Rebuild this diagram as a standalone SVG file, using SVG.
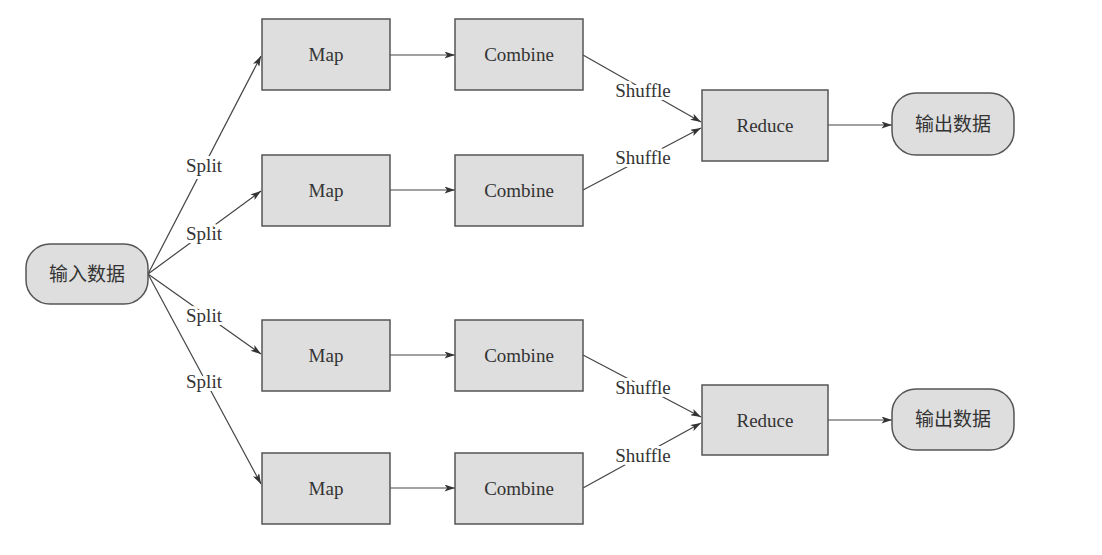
<svg xmlns="http://www.w3.org/2000/svg" width="1102" height="555" viewBox="0 0 1102 555">
<defs>
<marker id="arr" viewBox="0 0 12 8" refX="12" refY="4" markerWidth="12" markerHeight="7" markerUnits="userSpaceOnUse" orient="auto">
<path d="M0,0 L12,4 L0,8 L3,4 Z" fill="#333"/>
</marker>
</defs>
<style>
.box{fill:#dedede;stroke:#555;stroke-width:1.5}
.lbl{font-family:"Liberation Serif","Times New Roman",serif;font-size:19px;fill:#333;text-anchor:middle;dominant-baseline:central}
.cn{font-family:"Liberation Serif","Noto Sans CJK SC",sans-serif;font-size:19px;fill:#333;text-anchor:middle;dominant-baseline:central}
.edge{fill:none;stroke:#444;stroke-width:1.2;marker-end:url(#arr)}
.el{font-family:"Liberation Serif","Times New Roman",serif;font-size:19px;fill:#333;text-anchor:middle;dominant-baseline:central;paint-order:stroke;stroke:#fff;stroke-width:6px;stroke-linejoin:round}
</style>
<rect width="1102" height="555" fill="#fff"/>
<g id="connectors">
<path class="edge" d="M148,274 L261,56"/>
<path class="edge" d="M148,274 L261,191"/>
<path class="edge" d="M148,274 L261,354"/>
<path class="edge" d="M148,274 L261,484"/>
<path class="edge" d="M390,55 L455,55"/>
<path class="edge" d="M390,190 L455,190"/>
<path class="edge" d="M390,355 L455,355"/>
<path class="edge" d="M390,488 L455,488"/>
<path class="edge" d="M583,55 L701,122"/>
<path class="edge" d="M583,190 L701,128"/>
<path class="edge" d="M583,355 L701,417"/>
<path class="edge" d="M583,488 L701,423"/>
<path class="edge" d="M828,125 L892,125"/>
<path class="edge" d="M828,420 L892,420"/>
<text class="el" x="204" y="165">Split</text>
<text class="el" x="204" y="233">Split</text>
<text class="el" x="204" y="315">Split</text>
<text class="el" x="204" y="381">Split</text>
<text class="el" x="643" y="90">Shuffle</text>
<text class="el" x="643" y="157">Shuffle</text>
<text class="el" x="643" y="387">Shuffle</text>
<text class="el" x="643" y="455">Shuffle</text>
</g>
<g id="input"><rect class="box" x="26" y="244" width="122" height="60" rx="24"/><text class="cn" x="87" y="274">输入数据</text></g>
<g id="map1"><rect class="box" x="262" y="19" width="128" height="71"/><text class="lbl" x="326" y="54">Map</text></g>
<g id="map2"><rect class="box" x="262" y="155" width="128" height="71"/><text class="lbl" x="326" y="190">Map</text></g>
<g id="map3"><rect class="box" x="262" y="320" width="128" height="71"/><text class="lbl" x="326" y="355">Map</text></g>
<g id="map4"><rect class="box" x="262" y="453" width="128" height="71"/><text class="lbl" x="326" y="488">Map</text></g>
<g id="combine1"><rect class="box" x="455" y="19" width="128" height="71"/><text class="lbl" x="519" y="54">Combine</text></g>
<g id="combine2"><rect class="box" x="455" y="155" width="128" height="71"/><text class="lbl" x="519" y="190">Combine</text></g>
<g id="combine3"><rect class="box" x="455" y="320" width="128" height="71"/><text class="lbl" x="519" y="355">Combine</text></g>
<g id="combine4"><rect class="box" x="455" y="453" width="128" height="71"/><text class="lbl" x="519" y="488">Combine</text></g>
<g id="reduce1"><rect class="box" x="702" y="90" width="126" height="71"/><text class="lbl" x="765" y="125">Reduce</text></g>
<g id="reduce2"><rect class="box" x="702" y="385" width="126" height="70"/><text class="lbl" x="765" y="420">Reduce</text></g>
<g id="output1"><rect class="box" x="892" y="93" width="122" height="62" rx="24"/><text class="cn" x="953" y="124">输出数据</text></g>
<g id="output2"><rect class="box" x="892" y="389" width="122" height="61" rx="24"/><text class="cn" x="953" y="419">输出数据</text></g>
</svg>
